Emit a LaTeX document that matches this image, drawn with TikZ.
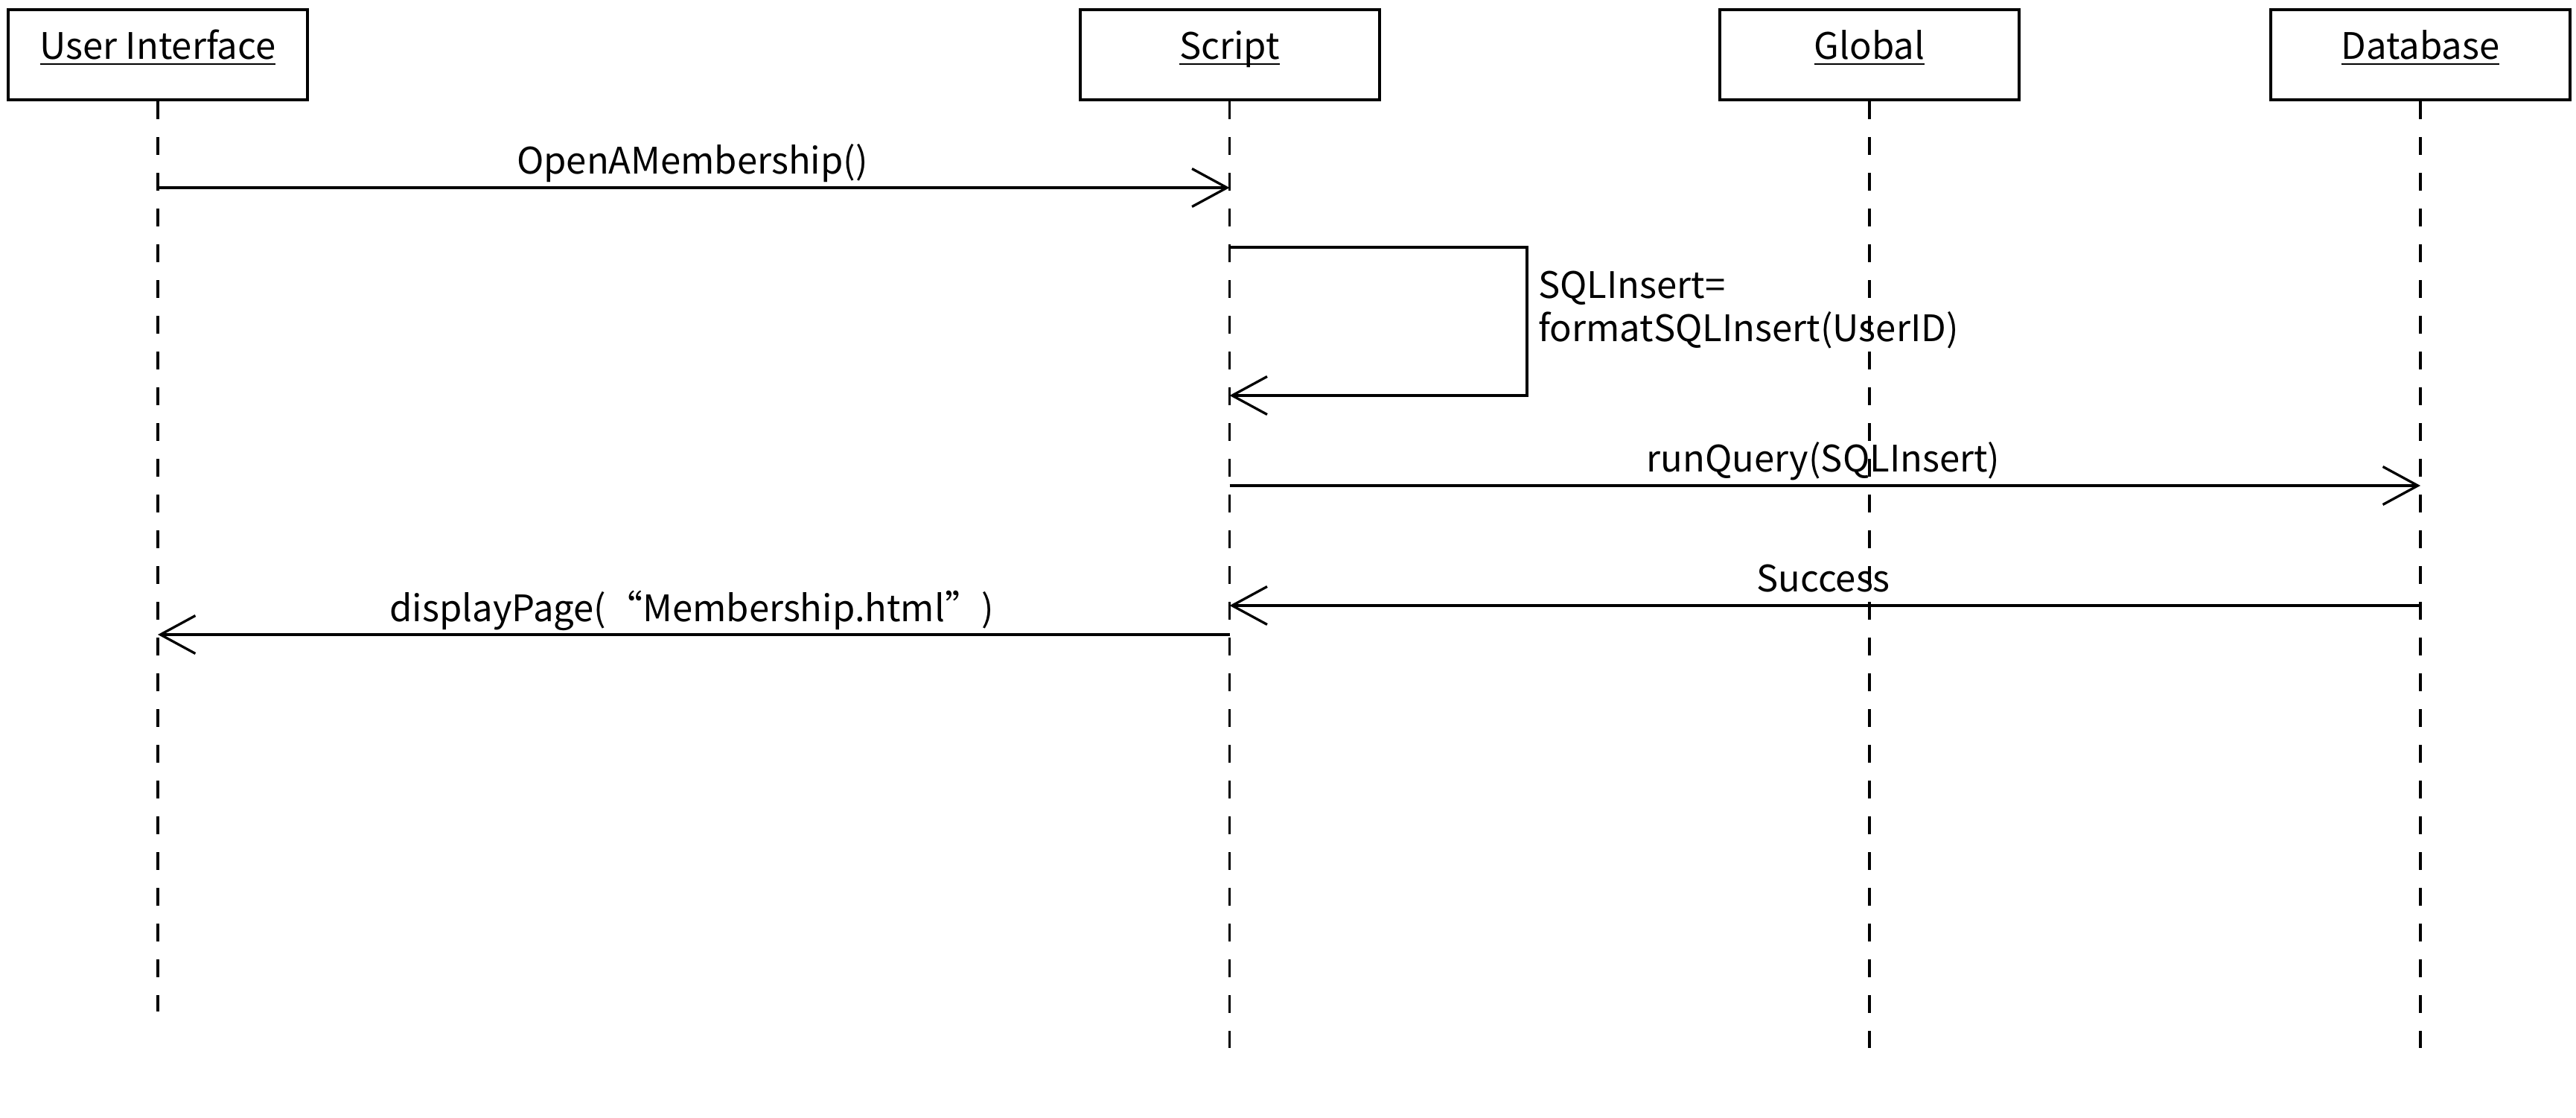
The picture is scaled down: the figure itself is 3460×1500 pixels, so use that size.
\documentclass[tikz,border=0pt]{standalone}
\usepackage{fontspec}
\setmainfont{Noto Sans CJK SC}
\usetikzlibrary{arrows.meta}
\newcommand\uln[1]{\setbox0\hbox{#1}\rlap{\rule[-4.2pt]{\wd0}{1.35pt}}\box0}
\tikzset{
  obj/.style={draw, line width=2pt, minimum width=201pt, inner sep=0pt, anchor=north,
    text height=33pt, text depth=27.5pt, font=\fontsize{24.5}{28}\selectfont},
  life/.style={line width=1.65pt, dash pattern=on 12pt off 12pt},
  msg/.style={line width=1.65pt, -{Straight Barb[length=23.5pt,width=25.5pt,line width=1.65pt]}},
  lbl/.style={font=\fontsize{24.5}{28}\selectfont, inner sep=0pt, anchor=base},
}
\begin{document}
\begin{tikzpicture}[x=0.5pt,y=-0.5pt]
\useasboundingbox (0,0) rectangle (3460,1500);
% objects
\node[obj] (ui) at (212,11) {\uln{User Interface}};
\node[obj] (script) at (1651.5,11) {\uln{Script}};
\node[obj] (global) at (2511,11) {\uln{Global}};
\node[obj] (db) at (3251,11) {\uln{Database}};
% lifeline ends
\coordinate (uiEnd) at (212,1358);
\coordinate (scriptEnd) at (1651.5,1407);
\coordinate (globalEnd) at (2511,1407);
\coordinate (dbEnd) at (3251,1407);
\draw[life] (ui.south) -- (uiEnd);
\draw[life] (script.south) -- (scriptEnd);
\draw[life] (global.south) -- (globalEnd);
\draw[life] (db.south) -- (dbEnd);
% message points
\coordinate (ui1) at (212,252);
\coordinate (sc1) at (1651.5,252);
\coordinate (sc2a) at (1651.5,332);
\coordinate (loopA) at (2051,332);
\coordinate (loopB) at (2051,531);
\coordinate (sc2b) at (1651.5,531);
\coordinate (sc3) at (1651.5,652);
\coordinate (db3) at (3251,652);
\coordinate (db4) at (3251,813);
\coordinate (sc4) at (1651.5,813);
\coordinate (sc5) at (1651.5,852);
\coordinate (ui5) at (212,852);
% messages
\draw[msg] (ui1) -- (sc1);
\node[lbl] (l1) at (930,233) {OpenAMembership()};
\draw[msg] (sc2a) -- (loopA) -- (loopB) -- (sc2b);
\node[lbl, anchor=base west] (l2a) at (2066,400) {SQLInsert=};
\node[lbl, anchor=base west] (l2b) at (2066,458) {formatSQLInsert(UserID)};
\draw[msg] (sc3) -- (db3);
\node[lbl] (l3) at (2449,633) {runQuery(SQLInsert)};
\draw[msg] (db4) -- (sc4);
\node[lbl] (l4) at (2449,794) {Success};
\draw[msg] (sc5) -- (ui5);
\node[lbl] (l5) at (929,834) {displayPage(“Membership.html”)};
\end{tikzpicture}
\end{document}
